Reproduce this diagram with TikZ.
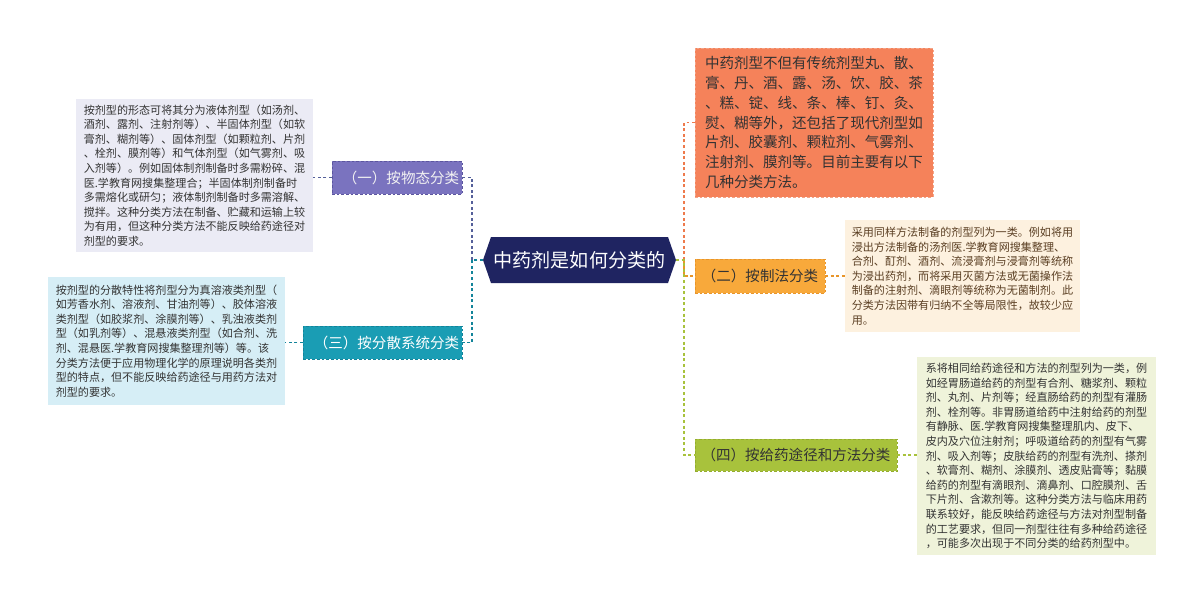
\documentclass[tikz,border=0pt]{standalone}
\usepackage{fontspec}
\setmainfont{Noto Sans CJK SC}
\definecolor{navy}{HTML}{1F2461}
\definecolor{purp}{HTML}{7A73BF}
\definecolor{purpd}{HTML}{5C569F}
\definecolor{purpc}{HTML}{55609A}
\definecolor{purpl}{HTML}{EBEBF5}
\definecolor{tealf}{HTML}{1A9DB4}
\definecolor{teald}{HTML}{13849A}
\definecolor{teall}{HTML}{D6EEF6}
\definecolor{coral}{HTML}{F5825A}
\definecolor{corald}{HTML}{F3A488}
\definecolor{orc}{HTML}{EE7A4C}
\definecolor{orng}{HTML}{F8A93B}
\definecolor{orngd}{HTML}{E8952A}
\definecolor{orngl}{HTML}{FDF1DF}
\definecolor{olive}{HTML}{A8C23C}
\definecolor{olived}{HTML}{94AD2E}
\definecolor{olivel}{HTML}{EFF3DA}
\definecolor{txt}{HTML}{333333}
\definecolor{brn}{HTML}{5A3E22}
\begin{document}
\begin{tikzpicture}[x=0.75pt,y=-0.75pt,
  every node/.style={inner sep=0pt, outer sep=0pt},
  tbox/.style={anchor=north west, align=left, text=txt,
    font=\fontsize{8.3}{10.95}\selectfont},
  cat/.style={anchor=north west, font=\fontsize{10.9}{13}\selectfont,
    draw, dash pattern=on 2pt off 1.5pt, line width=0.6pt},
  conn/.style={line width=1.1pt, dash pattern=on 2.2pt off 2pt},
]
\useasboundingbox (0,0) rectangle (1200,603);

% center node
\node[anchor=north west, minimum width=144.75pt, minimum height=34.5pt,
  text=white, font=\fontsize{14.3}{16}\selectfont,
  path picture={\fill[navy] (path picture bounding box.west)
    -- ([xshift=6pt]path picture bounding box.north west)
    -- ([xshift=-6pt]path picture bounding box.north east)
    -- (path picture bounding box.east)
    -- ([xshift=-6pt]path picture bounding box.south east)
    -- ([xshift=6pt]path picture bounding box.south west) -- cycle;}]
  (c) at (483,237) {中药剂是如何分类的};

% category nodes
\node[cat, fill=purp, draw=purpd, text=white!95!black,
  minimum width=97.5pt, minimum height=24.75pt] (k1) at (332,161) {\hspace{6pt}（一）按物态分类};
\node[cat, fill=tealf, draw=teald, text=white,
  minimum width=119.25pt, minimum height=24.75pt] (k3) at (303,326) {\hspace{6pt}（三）按分散系统分类};
\node[cat, fill=orng, draw=orngd, text=txt,
  minimum width=97.5pt, minimum height=25.5pt] (k2) at (695,259) {（二）按制法分类};
\node[cat, fill=olive, draw=olived, text=txt,
  minimum width=151.5pt, minimum height=24pt] (k4) at (695,439) {（四）按给药途径和方法分类};

% top orange box
\node[anchor=north west, align=left, text=txt, fill=coral, draw=corald,
  dash pattern=on 2pt off 1.5pt, line width=0.6pt,
  font=\fontsize{10.9}{14.8}\selectfont,
  minimum width=178.5pt, minimum height=111.75pt] (top) at (695,48)
  {中药剂型不但有传统剂型丸、散、\\
   膏、丹、酒、露、汤、饮、胶、茶\\
   、糕、锭、线、条、棒、钉、灸、\\
   熨、糊等外，还包括了现代剂型如\\
   片剂、胶囊剂、颗粒剂、气雾剂、\\
   注射剂、膜剂等。目前主要有以下\\
   几种分类方法。};

% text boxes
\node[tbox, fill=purpl, minimum width=177.75pt, minimum height=114.75pt] (b1) at (76,99)
  {按剂型的形态可将其分为液体剂型（如汤剂、\\
   酒剂、露剂、注射剂等）、半固体剂型（如软\\
   膏剂、糊剂等）、固体剂型（如颗粒剂、片剂\\
   、栓剂、膜剂等）和气体剂型（如气雾剂、吸\\
   入剂等）。例如固体制剂制备时多需粉碎、混\\
   医.学教育网搜集整理合；半固体制剂制备时\\
   多需熔化或研匀；液体制剂制备时多需溶解、\\
   搅拌。这种分类方法在制备、贮藏和运输上较\\
   为有用，但这种分类方法不能反映给药途径对\\
   剂型的要求。};

\node[tbox, fill=teall, minimum width=177.75pt, minimum height=96pt] (b3) at (48,277)
  {按剂型的分散特性将剂型分为真溶液类剂型（\\
   如芳香水剂、溶液剂、甘油剂等）、胶体溶液\\
   类剂型（如胶浆剂、涂膜剂等）、乳浊液类剂\\
   型（如乳剂等）、混悬液类剂型（如合剂、洗\\
   剂、混悬医.学教育网搜集整理剂等）等。该\\
   分类方法便于应用物理化学的原理说明各类剂\\
   型的特点，但不能反映给药途径与用药方法对\\
   剂型的要求。};

\node[tbox, fill=orngl, text=brn, minimum width=176.25pt, minimum height=84pt] (b2) at (845,220)
  {采用同样方法制备的剂型列为一类。例如将用\\
   浸出方法制备的汤剂医.学教育网搜集整理、\\
   合剂、酊剂、酒剂、流浸膏剂与浸膏剂等统称\\
   为浸出药剂，而将采用灭菌方法或无菌操作法\\
   制备的注射剂、滴眼剂等统称为无菌制剂。此\\
   分类方法因带有归纳不全等局限性，故较少应\\
   用。};

\node[tbox, fill=olivel, minimum width=179.25pt, minimum height=148.5pt] (b4) at (917,357)
  {系将相同给药途径和方法的剂型列为一类，例\\
   如经胃肠道给药的剂型有合剂、糖浆剂、颗粒\\
   剂、丸剂、片剂等；经直肠给药的剂型有灌肠\\
   剂、栓剂等。非胃肠道给药中注射给药的剂型\\
   有静脉、医.学教育网搜集整理肌内、皮下、\\
   皮内及穴位注射剂；呼吸道给药的剂型有气雾\\
   剂、吸入剂等；皮肤给药的剂型有洗剂、搽剂\\
   、软膏剂、糊剂、涂膜剂、透皮贴膏等；黏膜\\
   给药的剂型有滴眼剂、滴鼻剂、口腔膜剂、舌\\
   下片剂、含漱剂等。这种分类方法与临床用药\\
   联系较好，能反映给药途径与方法对剂型制备\\
   的工艺要求，但同一剂型往往有多种给药途径\\
   ，可能多次出现于不同分类的给药剂型中。};

% connectors
\coordinate (lb) at (472,260);
\coordinate (rb) at (684,260);
\draw[conn, purpc] (lb) |- (k1.east);
\draw[conn, teald] (c.west) -- (lb) |- (k3.east);
\draw[conn, orc] (rb) |- (top.west);
\draw[conn, orngd] (rb) |- (k2.west);
\draw[conn, olive] (c.east) -- (rb) |- (k4.west);

\draw[conn, purpc, line width=0.8pt] (k1.west) -- (k1.west -| b1.east);
\draw[conn, teald, line width=0.8pt] (k3.west) -- (k3.west -| b3.east);
\draw[conn, orngd, line width=0.8pt] (k2.east) -- (k2.east -| b2.west);
\draw[conn, olive, line width=0.8pt] (k4.east) -- (k4.east -| b4.west);
\end{tikzpicture}
\end{document}
